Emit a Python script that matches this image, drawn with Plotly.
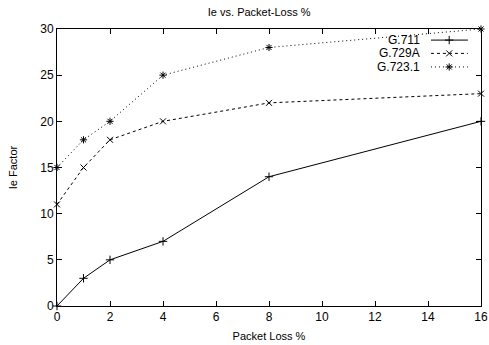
import plotly.graph_objects as go

loss_pct = [0, 1, 2, 4, 8, 16]
g711 = [0, 3, 5, 7, 14, 20]
g729a = [11, 15, 18, 20, 22, 23]
g7231 = [15, 18, 20, 25, 28, 30]

series = [
    ("G.711", g711, "solid", "cross-thin-open"),
    ("G.729A", g729a, "3px,3px", "x-thin-open"),
    ("G.723.1", g7231, "1px,3px", "asterisk-open"),
]

FONT = "Liberation Sans, Arial, Helvetica, sans-serif"
fig = go.Figure()
for name, ys, dash, sym in series:
    fig.add_trace(go.Scatter(
        x=loss_pct, y=ys, name=name, mode="lines+markers",
        line=dict(color="black", width=1, dash=dash),
        marker=dict(symbol=sym, size=6, color="black", line=dict(color="black", width=1)),
        showlegend=False, cliponaxis=False,
    ))

# gnuplot-style key (text, then sample) drawn on a hidden overlay axis in paper units
key_y = [0.960, 0.912, 0.863]
for (name, ys, dash, sym), ky in zip(series, key_y):
    fig.add_trace(go.Scatter(
        x=[0.882, 0.925, 0.969], y=[ky, ky, ky], xaxis="x2", yaxis="y2",
        mode="lines", line=dict(color="black", width=1, dash=dash),
        showlegend=False, hoverinfo="skip",
    ))
    fig.add_trace(go.Scatter(
        x=[0.925], y=[ky], xaxis="x2", yaxis="y2", mode="markers",
        marker=dict(symbol=sym, size=6, color="black", line=dict(color="black", width=1)),
        showlegend=False, hoverinfo="skip",
    ))
    fig.add_annotation(x=0.861, y=ky, xref="paper", yref="paper", text=name,
                       showarrow=False, xanchor="right", yanchor="middle",
                       font=dict(size=12, color="black", family=FONT))

axis_common = dict(
    showline=True, linecolor="black", linewidth=1, mirror="ticks",
    ticks="inside", ticklen=5, tickcolor="black", tickwidth=1,
    showgrid=False, zeroline=False, automargin=False,
    tickfont=dict(size=12, color="black", family=FONT),
)

fig.update_layout(
    width=489, height=345,
    margin=dict(l=57, r=8, t=29, b=39),
    paper_bgcolor="white", plot_bgcolor="white",
    font=dict(family=FONT, size=12, color="black"),
    title=dict(text="Ie vs. Packet-Loss %", x=0.53, xanchor="center", y=0.965, yanchor="middle",
               font=dict(size=11, color="black", family=FONT)),
    xaxis=dict(range=[0, 16], tickvals=list(range(0, 17, 2)),
               title=dict(text="Packet Loss %", standoff=8, font=dict(size=11, color="black", family=FONT)),
               **axis_common),
    yaxis=dict(range=[0, 30], tickvals=list(range(0, 31, 5)),
               title=dict(text="Ie Factor", standoff=20, font=dict(size=11, color="black", family=FONT)),
               **axis_common),
    xaxis2=dict(range=[0, 1], overlaying="x", visible=False),
    yaxis2=dict(range=[0, 1], overlaying="y", visible=False),
    showlegend=False,
)

fig.write_html("out.html")
